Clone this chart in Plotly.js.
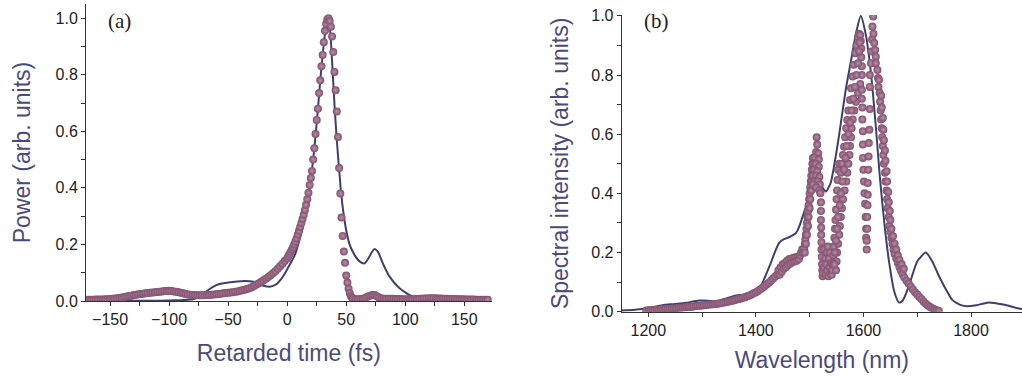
<!DOCTYPE html>
<html>
<head>
<meta charset="utf-8">
<script src="https://cdn.plot.ly/plotly-3.0.1.min.js"></script>
<style>html,body{margin:0;padding:0;background:#fff;}#chart{width:1022px;height:382px;}</style>
</head>
<body>
<div id="chart"></div>
<script>
// ---------- Panel (a): temporal power ----------
const timeLine = [-170,-150,-130,-110,-100,-90,-84,-80,-77,-74,-71,-68,-65,-62,-58,-54,-50,-46,-42,-38,-35,-32,-29,-26,-23,-20,-17,-14,-11,-8,-5,-2,1,4,7,10,13,16,19,22,25,28,30,32,33,34,34.5,35.3,36.4,37.3,38.1,39.2,40.1,41.5,42.9,44.3,45.7,47.7,50,52.8,57,61.3,65.5,69.7,72,74,76,77.6,81,86.7,95.2,106.4,117.8,130,150,170];
const powerLine = [0.001,0.001,0.001,0.001,0.002,0.003,0.004,0.006,0.01,0.016,0.025,0.035,0.044,0.052,0.059,0.063,0.065,0.067,0.069,0.07,0.071,0.07,0.068,0.064,0.059,0.054,0.051,0.051,0.055,0.064,0.078,0.097,0.12,0.142,0.168,0.21,0.26,0.325,0.405,0.5,0.63,0.78,0.87,0.945,0.975,0.995,1.0,0.99,0.955,0.9,0.84,0.76,0.69,0.6,0.52,0.45,0.38,0.31,0.25,0.2,0.163,0.14,0.133,0.157,0.175,0.184,0.178,0.168,0.133,0.086,0.045,0.015,0.006,0.003,0.002,0.002];

const timeExp = [-170,-168,-166,-164,-162,-160,-158,-156,-154,-152,-150,-148,-146,-144,-142,-140,-138,-136,-134,-132,-130,-128,-126,-124,-122,-120,-118,-116,-114,-112,-110,-108,-106,-104,-102,-100,-98,-96,-94,-92,-90,-88,-86,-84,-82,-80,-78,-76,-74,-72,-70,-68,-66,-64,-62,-60,-58,-56,-54,-52,-50,-48,-46,-44,-42,-40,-38,-36,-34,-32,-30,-28,-26,-24,-22,-20,-18,-16,-14,-12,-10,-8,-6,-4,-2,
0,1,2,3,4,5,6,7,8,9,10,11,12,13,14,15,16,17,18,19,20,21,22,23,24,25,26,27,28,29,30,31,32,33,34,35,36,37,38,39,40,41,42,43,44,45,46,47,48,49,50,51,52,53,54,55,56,
58,60,62,64,66,68,70,72,74,76,78,80,82,84,86,88,90,92,94,96,98,100,102,104,106,108,110,112,114,116,118,120,122,124,126,128,130,132,134,136,138,140,142,144,146,148,150,152,154,156,158,160,162,164,166,168,170];
const powerExp = [0.004,0.004,0.004,0.004,0.005,0.005,0.005,0.005,0.006,0.006,0.007,0.008,0.009,0.010,0.011,0.012,0.014,0.016,0.018,0.019,0.021,0.022,0.024,0.025,0.026,0.027,0.028,0.029,0.030,0.031,0.032,0.033,0.034,0.035,0.035,0.036,0.035,0.034,0.033,0.031,0.029,0.027,0.025,0.023,0.022,0.021,0.021,0.020,0.020,0.020,0.020,0.021,0.021,0.022,0.023,0.024,0.025,0.026,0.027,0.028,0.029,0.030,0.031,0.033,0.034,0.036,0.038,0.040,0.042,0.045,0.049,0.053,0.058,0.063,0.068,0.073,0.079,0.085,0.091,0.098,0.105,0.114,0.123,0.132,0.141,
0.15,0.158,0.166,0.174,0.182,0.19,0.2,0.21,0.222,0.235,0.248,0.262,0.276,0.29,0.305,0.322,0.34,0.36,0.383,0.41,0.435,0.46,0.5,0.54,0.59,0.64,0.68,0.735,0.78,0.83,0.87,0.915,0.955,0.98,0.995,1.0,0.99,0.97,0.935,0.88,0.81,0.745,0.67,0.58,0.47,0.38,0.295,0.23,0.175,0.135,0.09,0.065,0.043,0.027,0.017,0.011,0.008,
0.006,0.006,0.007,0.008,0.011,0.015,0.019,0.021,0.021,0.017,0.012,0.009,0.008,0.008,0.008,0.008,0.008,0.007,0.007,0.007,0.006,0.006,0.006,0.006,0.006,0.007,0.007,0.008,0.008,0.009,0.009,0.01,0.01,0.01,0.01,0.009,0.009,0.008,0.008,0.008,0.007,0.007,0.007,0.006,0.006,0.006,0.006,0.005,0.005,0.005,0.005,0.004,0.004,0.004,0.004,0.004,0.004];

// ---------- Panel (b): spectrum ----------
const wlLine = [1150,1175,1200,1226,1250,1270,1294,1310,1326,1345,1363,1380,1393,1400,1410,1425,1435,1443,1452,1462,1474,1480,1493,1505,1514,1522,1530,1539,1548,1555,1567,1577,1586,1595,1604,1614,1623,1631,1640,1648,1657,1666,1672,1680,1688,1700,1716,1728,1741,1755,1765,1778,1790,1810,1833,1860,1889,1900];
const specLine = [0.004,0.007,0.012,0.022,0.026,0.03,0.038,0.037,0.034,0.045,0.055,0.057,0.057,0.064,0.09,0.152,0.2,0.232,0.245,0.252,0.265,0.285,0.355,0.423,0.44,0.425,0.406,0.435,0.52,0.6,0.75,0.85,0.94,1.0,0.94,0.806,0.626,0.445,0.28,0.164,0.07,0.031,0.035,0.065,0.107,0.17,0.2,0.17,0.118,0.07,0.04,0.025,0.019,0.022,0.031,0.024,0.011,0.008];

const wlExp = [
1196,1200,1204,1208,1212,1216,1220,1224,1228,1232,1236,1240,1244,1248,1252,1256,1260,1264,1268,1272,1276,1280,1284,1288,1292,1296,1300,1304,1308,1312,1316,1320,1324,1328,1332,1336,1340,1344,1348,1352,1356,1360,1364,1368,1372,1376,1380,1384,1388,1392,1396,1400,1404,1408,1412,1416,1420,1424,1428,1432,1436,1440,
1442,1444,1446,1448,1450,1452,1454,1456,1458,1460,1462,1464,1466,1468,1470,1472,1474,1476,1478,1480,1482,1484,1486,
1488,1490,1491,1492,1493,1494,1495,1496,1497,1498,1499,1500,1501,1502,1503,1504,1505,1506,
1491,1493,1495,1497,1498,1500,1501,1503,1504,
1513,1514,1512,1516,1509,1517,1507,1511,1517,1508,1514,1506,1512,1518,1509,1515,1506,1519,1512,1518,1520,
1521,1521,1521,1521.5,1521.5,1522,1522,1522.5,1523,1523.5,1524,
1525,1527,1527,1529,1530,1531,1532,1533,1534,1535,1536,1537,1538,1539,1540,1541,1542,
1543,1544,1545,1546,1547,1548,1549,1550,1551,1552,1553,1555,
1558,1560,1562,1564,1566,1568,1570,1572,1575,1577,1580,1582,1585,1587,1590,1592,1594,
1549,1550,1551,1553,1555,1556,1558,1560,1562,1565,1568,1570,1572,1574,1575,1577,1578,1580,1583,1586,1590,1594,1597,1597,1596,1596,1595,
1546,1547,1549,1551,1553,1556,1558,1561,1564,1567,1569,1572,1575,1578,1581,1584,1587,1590,1592,1593,
1597,1597,1598,1598,1599,1599,1599,1600,1601,1602,1603,1604,1605,1605,1606,
1606,1607,1607,1607.5,1608,1608,1609,1609.5,1610,1611,1612,1612,1612,
1614,1615,1616,1616.7,1618,1618.6,1620,1621.7,1623,1623,1626,1627,1629,1628,
1630,1631,1632,1633,1634,1635,1636,1637,1638,1640,1641,1643,1644,1645,1647,1648,1650,1652,1654,1656,1658,1661,1664,1667,1670,1673,1676,1680,1684,1688,1692,1696,1700,1704,1708,1712,1716,1720,1724,1728,1732,1736,1740,
1633,1634,1636,1637,1638,1640,1641,1643,1644,1646,1647,1649,1650,1652,1655,1658,1661,1664,1667,1671,1675];
const specExp = [
0.004,0.005,0.005,0.006,0.006,0.007,0.007,0.008,0.008,0.009,0.009,0.010,0.011,0.011,0.012,0.013,0.013,0.014,0.015,0.016,0.016,0.017,0.018,0.019,0.020,0.020,0.021,0.022,0.023,0.024,0.024,0.025,0.026,0.027,0.028,0.029,0.031,0.032,0.034,0.035,0.037,0.039,0.041,0.043,0.045,0.047,0.049,0.052,0.055,0.058,0.062,0.066,0.07,0.075,0.08,0.086,0.092,0.098,0.105,0.112,0.119,0.126,
0.14,0.125,0.15,0.135,0.16,0.145,0.165,0.15,0.172,0.158,0.178,0.163,0.18,0.168,0.182,0.17,0.184,0.172,0.186,0.178,0.19,0.2,0.21,
0.2,0.215,0.23,0.245,0.26,0.28,0.30,0.32,0.34,0.36,0.38,0.40,0.42,0.44,0.46,0.48,0.50,0.52,
0.2,0.23,0.26,0.29,0.32,0.35,0.38,0.41,0.44,
0.59,0.565,0.54,0.535,0.52,0.515,0.5,0.5,0.49,0.48,0.475,0.46,0.46,0.455,0.44,0.44,0.43,0.43,0.42,0.41,0.40,
0.37,0.34,0.31,0.285,0.26,0.235,0.21,0.185,0.16,0.14,0.12,
0.13,0.21,0.15,0.18,0.125,0.16,0.2,0.14,0.22,0.12,0.18,0.15,0.2,0.13,0.165,0.125,0.14,
0.16,0.19,0.22,0.25,0.28,0.31,0.345,0.38,0.41,0.445,0.48,0.5,
0.47,0.5,0.53,0.558,0.59,0.62,0.648,0.68,0.716,0.755,0.795,0.835,0.874,0.9,0.928,0.94,0.935,
0.14,0.17,0.2,0.23,0.26,0.29,0.32,0.35,0.38,0.41,0.44,0.47,0.5,0.53,0.56,0.59,0.62,0.65,0.68,0.71,0.74,0.77,0.8,0.83,0.86,0.89,0.915,
0.16,0.2,0.24,0.28,0.32,0.36,0.4,0.44,0.48,0.52,0.56,0.6,0.64,0.68,0.72,0.76,0.8,0.84,0.88,0.91,
0.75,0.72,0.69,0.65,0.61,0.565,0.52,0.48,0.44,0.4,0.365,0.32,0.28,0.25,0.21,
0.24,0.28,0.32,0.36,0.395,0.435,0.48,0.525,0.57,0.615,0.685,0.76,0.80,
0.84,0.88,0.92,0.964,0.998,0.94,0.908,0.885,0.862,0.84,0.817,0.79,0.784,0.76,
0.74,0.71,0.68,0.65,0.62,0.59,0.56,0.53,0.5,0.47,0.44,0.41,0.38,0.35,0.32,0.29,0.27,0.25,0.23,0.21,0.195,0.18,0.165,0.15,0.138,0.127,0.116,0.105,0.095,0.085,0.075,0.066,0.058,0.05,0.042,0.034,0.027,0.021,0.016,0.012,0.008,0.005,0.003,
0.73,0.69,0.655,0.615,0.58,0.545,0.51,0.475,0.44,0.405,0.37,0.34,0.31,0.28,0.255,0.23,0.21,0.19,0.175,0.16,0.145];

// ---------- styling ----------
const lineColor = '#3f3f6e';
const markerColor = '#82506e';
const titleColor = '#4a4a7c';
const axisColor = '#333333';

const markerStyle = {size: 8, color: markerColor, gradient: {type: 'radial', color: '#b98fa9'}, line: {width: 0}};

const traces = [
  {x: timeLine, y: powerLine, xaxis: 'x', yaxis: 'y', mode: 'lines', type: 'scatter',
   line: {color: lineColor, width: 2, shape: 'spline', smoothing: 0.6}},
  {x: timeExp, y: powerExp, xaxis: 'x', yaxis: 'y', mode: 'markers', type: 'scatter', marker: markerStyle},
  {x: wlLine, y: specLine, xaxis: 'x2', yaxis: 'y2', mode: 'lines', type: 'scatter',
   line: {color: lineColor, width: 2, shape: 'spline', smoothing: 0.6}},
  {x: wlExp, y: specExp, xaxis: 'x2', yaxis: 'y2', mode: 'markers', type: 'scatter', marker: markerStyle}
];

function xAxis(domain, range, tickvals, minorStep, title, anchor, standoff) {
  return {
    domain: domain, range: range, anchor: anchor, tickvals: tickvals,
    ticks: 'outside', ticklen: 4, tickwidth: 1, tickcolor: axisColor,
    showline: true, linecolor: axisColor, linewidth: 1, showgrid: false, zeroline: false,
    minor: {dtick: minorStep, tick0: 0, ticks: 'outside', ticklen: 4, tickwidth: 1, tickcolor: axisColor, showgrid: false},
    tickfont: {size: 16, color: '#222'},
    title: {text: title, font: {size: 23, color: titleColor}, standoff: standoff}
  };
}
function yAxis(domain, range, title, anchor, standoff) {
  return {
    domain: domain, range: range, anchor: anchor,
    tickvals: [0, 0.2, 0.4, 0.6, 0.8, 1.0], tickformat: '.1f',
    ticks: 'outside', ticklen: 4, tickwidth: 1, tickcolor: axisColor,
    showline: true, linecolor: axisColor, linewidth: 1, showgrid: false, zeroline: false,
    minor: {dtick: 0.1, tick0: 0, ticks: 'outside', ticklen: 4, tickwidth: 1, tickcolor: axisColor, showgrid: false},
    tickfont: {size: 16, color: '#222'},
    title: {text: title, font: {size: 23, color: titleColor}, standoff: standoff}
  };
}

const layout = {
  width: 1022, height: 382,
  margin: {l: 0, r: 0, t: 0, b: 0},
  paper_bgcolor: '#ffffff', plot_bgcolor: '#ffffff',
  showlegend: false,
  font: {family: '"Liberation Sans", Arial, sans-serif', size: 16, color: '#222'},
  xaxis: xAxis([86/1022, 491.7/1022], [-170.4, 173.2], [-150, -100, -50, 0, 50, 100, 150], 25, 'Retarded time (fs)', 'y', 17),
  yaxis: yAxis([81/382, 378/382], [0, 1.05], 'Power (arb. units)', 'x', 18),
  xaxis2: xAxis([621.7/1022, 1], [1150.5, 1894.8], [1200, 1400, 1600, 1800], 100, 'Wavelength (nm)', 'y2', 13),
  yaxis2: yAxis([70.3/382, 367/382], [0, 1.003], 'Spectral intensity (arb. units)', 'x2', 16),
  annotations: [
    {text: '(a)', xref: 'paper', yref: 'paper', x: 119.5/1022, y: 1 - 21/382, xanchor: 'center', yanchor: 'middle',
     showarrow: false, font: {family: '"Liberation Serif", "Times New Roman", serif', size: 21, color: '#222'}},
    {text: '(b)', xref: 'paper', yref: 'paper', x: 656/1022, y: 1 - 21/382, xanchor: 'center', yanchor: 'middle',
     showarrow: false, font: {family: '"Liberation Serif", "Times New Roman", serif', size: 21, color: '#222'}}
  ]
};

Plotly.newPlot('chart', traces, layout, {staticPlot: true, displayModeBar: false});
</script>
</body>
</html>
